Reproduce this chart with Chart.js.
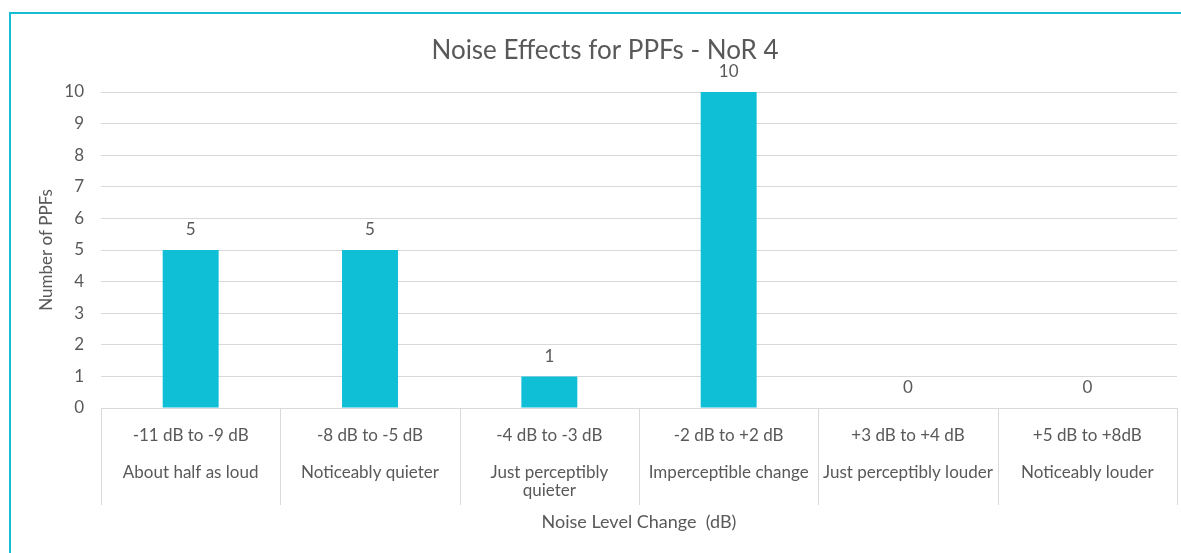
<!DOCTYPE html>
<html>
<head>
<meta charset="utf-8">
<script src="https://cdn.jsdelivr.net/npm/chart.js@4/dist/chart.umd.min.js"></script>
<style>
  html, body { margin: 0; padding: 0; background: #ffffff; overflow: hidden; }
  #frame { position: absolute; left: 9px; top: 12px; width: 1300px; height: 700px;
           border-top: 2px solid #19bdd3; border-left: 2px solid #19bdd3; box-sizing: border-box; }
  #wrap { position: absolute; left: 0; top: 0; width: 1181px; height: 553px; }
</style>
</head>
<body>
<div id="frame"></div>
<div id="wrap"><canvas id="c" width="1181" height="553"></canvas></div>
<script>
const chartTitle = "Noise Effects for PPFs - NoR 4";
const rangeLabels = ["-11 dB to -9 dB", "-8 dB to -5 dB", "-4 dB to -3 dB", "-2 dB to +2 dB", "+3 dB to +4 dB", "+5 dB to +8dB"];
const descriptions = [["About half as loud"], ["Noticeably quieter"], ["Just perceptibly", "quieter"], ["Imperceptible change"], ["Just perceptibly louder"], ["Noticeably louder"]];
const counts = [5, 5, 1, 10, 0, 0];
const yTickValues = [0, 1, 2, 3, 4, 5, 6, 7, 8, 9, 10];
const yAxisTitle = "Number of PPFs";
const xAxisTitle = "Noise Level Change  (dB)";

const FONT = "Lato, 'Liberation Sans', sans-serif";
const TEXT = "#595959";
const GRID = "#d9d9d9";
const BAR = "#0fbfd6";

const labels = rangeLabels.map((r, i) => [r, ""].concat(descriptions[i]));

const overlay = {
  id: 'overlay',
  afterDraw(chart) {
    const ctx = chart.ctx;
    const x = chart.scales.x, y = chart.scales.y;
    ctx.save();
    ctx.strokeStyle = GRID;
    ctx.lineWidth = 1;
    const n = labels.length;
    const step = x.getPixelForValue(1) - x.getPixelForValue(0);
    for (let i = 0; i <= n; i++) {
      let px = (i < n) ? x.getPixelForValue(i) - step / 2 : x.getPixelForValue(n - 1) + step / 2;
      px = Math.round(px) + 0.5;
      ctx.beginPath();
      ctx.moveTo(px, y.bottom);
      ctx.lineTo(px, y.bottom + 97);
      ctx.stroke();
    }
    ctx.fillStyle = TEXT;
    ctx.font = "17px " + FONT;
    ctx.textAlign = 'center';
    ctx.textBaseline = 'middle';
    const meta = chart.getDatasetMeta(0);
    meta.data.forEach((bar, i) => {
      ctx.fillText(String(counts[i]), bar.x, bar.y - 20);
    });
    ctx.font = "26px " + FONT;
    ctx.fillText(chartTitle, 605, 51);
    ctx.restore();
  }
};

new Chart(document.getElementById('c'), {
  type: 'bar',
  data: {
    labels: labels,
    datasets: [{
      data: counts,
      backgroundColor: BAR,
      borderWidth: 0,
      barPercentage: 0.312,
      categoryPercentage: 1.0
    }]
  },
  options: {
    responsive: false,
    animation: false,
    devicePixelRatio: 1,
    layout: { padding: { top: 92, right: 4, left: 0, bottom: 0 } },
    plugins: { legend: { display: false }, title: { display: false }, tooltip: { enabled: false } },
    scales: {
      x: {
        grid: { display: false, drawTicks: false },
        border: { display: true, color: GRID, width: 1 },
        ticks: {
          color: TEXT, font: { family: FONT, size: 17, lineHeight: 1.088 },
          padding: 18, maxRotation: 0, autoSkip: false
        },
        title: {
          display: true, text: xAxisTitle, color: TEXT,
          font: { family: FONT, size: 18, lineHeight: 1.2 },
          padding: { top: 4, bottom: 20 }
        },
        afterFit(scale) { scale.height = 145; }
      },
      y: {
        min: 0, max: 10,
        afterBuildTicks(scale) { scale.ticks = yTickValues.map(v => ({ value: v })); },
        grid: { color: GRID, drawTicks: false, lineWidth: 1 },
        border: { display: false },
        ticks: { color: TEXT, font: { family: FONT, size: 17 }, padding: 17 },
        title: {
          display: true, text: yAxisTitle, color: TEXT,
          font: { family: FONT, size: 17, lineHeight: 1.2 },
          padding: { top: 36 }
        },
        afterFit(scale) { scale.width = 101; }
      }
    }
  },
  plugins: [overlay]
});
</script>
</body>
</html>
